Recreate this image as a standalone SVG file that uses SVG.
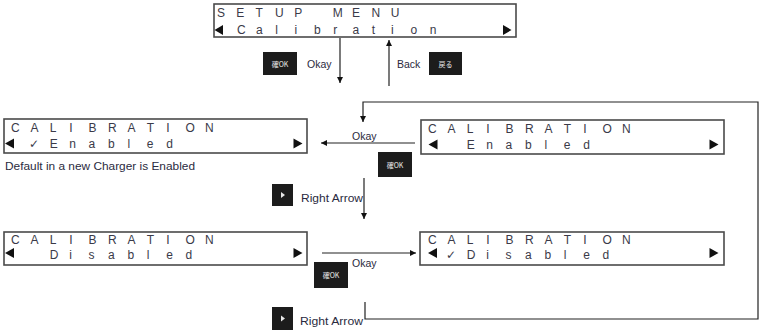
<svg xmlns="http://www.w3.org/2000/svg" width="761" height="331" viewBox="0 0 761 331">
<style>
.box{fill:#fff;stroke:#4a4a4a;stroke-width:1.6}
.lcd{font-family:"Liberation Sans",Arial,sans-serif;font-size:12px;fill:#3a3a48}
.chk{font-family:"DejaVu Sans",sans-serif;font-size:12px;fill:#3a3a48}
.tri{fill:#111}
.btn{fill:#1c1c1c}
.btxt{font-family:"Noto Sans CJK JP","Liberation Sans",sans-serif;font-size:7px;fill:#e8e8e8}
.lbl{font-family:"Liberation Sans",Arial,sans-serif;font-size:10.5px;fill:#2a2a40}
.con{fill:none;stroke:#222;stroke-width:1.2}
</style>
<defs>
<marker id="ah" viewBox="0 0 10 10" refX="10" refY="5" markerWidth="6" markerHeight="6" orient="auto" markerUnits="userSpaceOnUse">
<path d="M0,0 L10,5 L0,10 z" fill="#111"/>
</marker>
</defs>

<g id="setup-menu">
<rect class="box" x="214" y="4" width="302" height="33"/>
<text class="lcd" x="217 236.3 255.6 274.9 294.2 332.8 352.1 371.4 390.7" y="17">SETUPMENU</text>
<polygon class="tri" points="214.5,30 223,25 223,35"/>
<text class="lcd" x="237 256 275.3 294.6 313.9 333.2 352.5 371.8 391.1 410.4 429.7" y="34">Calibration</text>
<polygon class="tri" points="511.5,30 503,25 503,35"/>
</g>

<g id="btn-ok-1">
<rect class="btn" x="263" y="52" width="34" height="23"/>
<text class="btxt" x="280" y="66.5" text-anchor="middle">確OK</text>
</g>
<g id="btn-back">
<rect class="btn" x="429" y="52" width="33" height="23"/>
<text class="btxt" x="445.5" y="66.5" text-anchor="middle">戻る</text>
</g>

<g id="cal-enabled-checked">
<rect class="box" x="4" y="119" width="303" height="34"/>
<text class="lcd" x="11 30.4 49.8 69.2 88.6 108 127.4 146.8 166.2 185.6 205" y="132">CALIBRATION</text>
<polygon class="tri" points="5,143.5 14,138.5 14,148.5"/>
<text class="chk" x="29" y="148">✓</text>
<text class="lcd" x="49.8 69.2 88.6 108 127.4 146.8 166.2" y="148">Enabled</text>
<polygon class="tri" points="302.5,143.5 293.5,138.5 293.5,148.5"/>
</g>
<text class="lbl" x="5" y="170" textLength="190" lengthAdjust="spacingAndGlyphs">Default in a new Charger is Enabled</text>

<g id="cal-enabled">
<rect class="box" x="421" y="120" width="303" height="34"/>
<text class="lcd" x="428 447.4 466.8 486.2 505.6 525 544.4 563.8 583.2 602.6 622" y="133">CALIBRATION</text>
<polygon class="tri" points="428.5,144.5 437.5,139.5 437.5,149.5"/>
<text class="lcd" x="466.8 486.2 505.6 525 544.4 563.8 583.2" y="149">Enabled</text>
<polygon class="tri" points="718.5,144.5 709.5,139.5 709.5,149.5"/>
</g>

<g id="btn-ok-2">
<rect class="btn" x="378" y="152" width="34" height="25"/>
<text class="btxt" x="395" y="167.5" text-anchor="middle">確OK</text>
</g>
<g id="btn-right-1">
<rect class="btn" x="272" y="184" width="21" height="22"/>
<polygon fill="#e8e8e8" points="281,192 285,195 281,198"/>
</g>

<g id="cal-disabled">
<rect class="box" x="4" y="232" width="303" height="33"/>
<text class="lcd" x="11 30.4 49.8 69.2 88.6 108 127.4 146.8 166.2 185.6 205" y="244">CALIBRATION</text>
<polygon class="tri" points="5,253 14,248 14,258"/>
<text class="lcd" x="49.8 69.2 88.6 108 127.4 146.8 166.2 185.6" y="259">Disabled</text>
<polygon class="tri" points="302.5,253 293.5,248 293.5,258"/>
</g>

<g id="cal-disabled-checked">
<rect class="box" x="420" y="232" width="304" height="33"/>
<text class="lcd" x="428 447.4 466.8 486.2 505.6 525 544.4 563.8 583.2 602.6 622" y="244">CALIBRATION</text>
<polygon class="tri" points="428,253 437,248 437,258"/>
<text class="chk" x="446" y="259">✓</text>
<text class="lcd" x="466.8 486.2 505.6 525 544.4 563.8 583.2 602.6" y="259">Disabled</text>
<polygon class="tri" points="718.5,253 709.5,248 709.5,258"/>
</g>

<g id="btn-ok-3">
<rect class="btn" x="314" y="262" width="34" height="26"/>
<text class="btxt" x="331" y="277.5" text-anchor="middle">確OK</text>
</g>
<g id="btn-right-2">
<rect class="btn" x="272" y="307" width="21" height="23"/>
<polygon fill="#e8e8e8" points="281,315.5 285,318.5 281,321.5"/>
</g>

<g id="connectors">
<line class="con" x1="340" y1="38" x2="340" y2="83" marker-end="url(#ah)"/>
<line class="con" x1="389" y1="86" x2="389" y2="40" marker-end="url(#ah)"/>
<path class="con" d="M365,302 V319 H758 V102 H363 V122" marker-end="url(#ah)"/>
<line class="con" x1="415" y1="143" x2="321" y2="143" marker-end="url(#ah)"/>
<line class="con" x1="364" y1="178" x2="364" y2="219" marker-end="url(#ah)"/>
<line class="con" x1="322" y1="253" x2="416" y2="253" marker-end="url(#ah)"/>
</g>

<g id="labels">
<text class="lbl" x="307" y="68">Okay</text>
<text class="lbl" x="397" y="68">Back</text>
<text class="lbl" x="352" y="140">Okay</text>
<text class="lbl" x="301" y="202" textLength="62" lengthAdjust="spacingAndGlyphs">Right Arrow</text>
<text class="lbl" x="352" y="267">Okay</text>
<text class="lbl" x="300" y="325" textLength="63" lengthAdjust="spacingAndGlyphs">Right Arrow</text>
</g>
</svg>
